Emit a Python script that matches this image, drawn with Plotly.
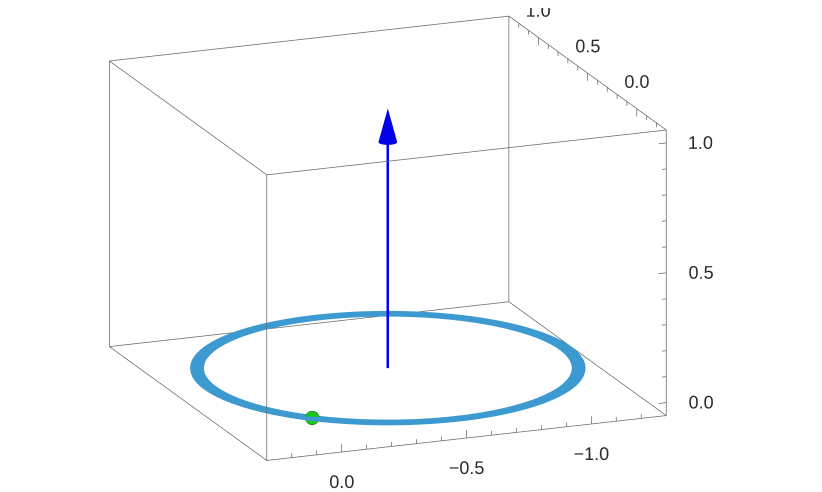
import numpy as np
import plotly.graph_objects as go

# ---------------- data ----------------
box_x = [-1.3, 0.3]
box_y = [-0.3, 1.3]
box_z = [-0.05, 1.05]

x_major = [0.0, -0.5, -1.0]
x_labels = ["0.0", "\u22120.5", "\u22121.0"]
x_minor = [0.2, 0.1, -0.1, -0.2, -0.3, -0.4, -0.6, -0.7, -0.8, -0.9, -1.1, -1.2]
y_major = [0.0, 0.5, 1.0]
y_labels = ["0.0", "0.5", "1.0"]
y_minor = [-0.2, -0.1, 0.1, 0.2, 0.3, 0.4, 0.6, 0.7, 0.8, 0.9, 1.1, 1.2]
z_major = [0.0, 0.5, 1.0]
z_labels = ["0.0", "0.5", "1.0"]
z_minor = [0.1, 0.2, 0.3, 0.4, 0.6, 0.7, 0.8, 0.9]

ring_center = [-0.5, 0.5, 0.0]
ring_radii = [0.69, 0.697, 0.704, 0.711, 0.718, 0.725, 0.732]
arrow_start = [-0.5, 0.5, 0.0]
arrow_end = [-0.5, 0.5, 1.0]
green_point = [0.0, 0.0, 0.0]

# ---------------- styling ----------------
EDGE = "rgb(105,105,105)"
RING = "#3D9AD1"
ARROW = "#0000FF"
FONT = dict(family="Liberation Sans, Arial, sans-serif", size=18, color="#2b2b2b")
PAD = 0.3
TMAJ = 0.03
TMIN = 0.017
ZOOM = 2.4
Z_RATIO = 0.78

fig = go.Figure()

def seg_trace(xs, ys, zs, color, width):
    return go.Scatter3d(x=xs, y=ys, z=zs, mode="lines",
                        line=dict(color=color, width=width),
                        hoverinfo="skip", showlegend=False)

# box edges
ex, ey, ez = [], [], []
X0, X1 = box_x
Y0, Y1 = box_y
Z0, Z1 = box_z
for yy in (Y0, Y1):
    for zz in (Z0, Z1):
        ex += [X0, X1, None]; ey += [yy, yy, None]; ez += [zz, zz, None]
for xx in (X0, X1):
    for zz in (Z0, Z1):
        ex += [xx, xx, None]; ey += [Y0, Y1, None]; ez += [zz, zz, None]
for xx in (X0, X1):
    for yy in (Y0, Y1):
        ex += [xx, xx, None]; ey += [yy, yy, None]; ez += [Z0, Z1, None]
fig.add_trace(seg_trace(ex, ey, ez, EDGE, 1.5))

# ticks
tx, ty, tz = [], [], []
for v in x_major + x_minor:
    L = TMAJ if v in x_major else TMIN
    tx += [v, v, None]; ty += [Y0, Y0, None]; tz += [Z0, Z0 + L, None]
for v in y_major + y_minor:
    L = TMAJ if v in y_major else TMIN
    tx += [X0, X0, None]; ty += [v, v, None]; tz += [Z1, Z1 - L, None]
for v in z_major + z_minor:
    L = TMAJ if v in z_major else TMIN
    tx += [X0, X0 + L, None]; ty += [Y0, Y0, None]; tz += [v, v, None]
fig.add_trace(seg_trace(tx, ty, tz, EDGE, 1.5))

# tick labels
fig.add_trace(go.Scatter3d(x=x_major, y=[Y0] * 3, z=[Z0 - 0.02] * 3, mode="text",
                           text=x_labels, textposition="bottom center",
                           textfont=FONT, hoverinfo="skip", showlegend=False))
fig.add_trace(go.Scatter3d(x=[X0] * 3, y=y_major, z=[Z1 + 0.01] * 3, mode="text",
                           text=y_labels, textposition="top center",
                           textfont=FONT, hoverinfo="skip", showlegend=False))
fig.add_trace(go.Scatter3d(x=[X0 - 0.02] * 3, y=[Y0] * 3, z=z_major, mode="text",
                           text=z_labels, textposition="middle right",
                           textfont=FONT, hoverinfo="skip", showlegend=False))

# ring
theta = np.linspace(0, 2 * np.pi, 241)
rx, ry, rz = [], [], []
for r in ring_radii:
    rx += list(ring_center[0] + r * np.cos(theta)) + [None]
    ry += list(ring_center[1] + r * np.sin(theta)) + [None]
    rz += [ring_center[2]] * len(theta) + [None]
fig.add_trace(seg_trace(rx, ry, rz, RING, 5))

# arrow shaft + head
head_len = 0.13
head_rad = 0.035
sx, sy, sz = arrow_start
axx, ayy, azz = arrow_end
fig.add_trace(seg_trace([sx, axx], [sy, ayy], [sz, azz - head_len * 0.9], ARROW, 5))
phi = np.linspace(0, 2 * np.pi, 25)[:-1]
cx = list(axx + head_rad * np.cos(phi)) + [axx, axx]
cy = list(ayy + head_rad * np.sin(phi)) + [ayy, ayy]
cz = [azz - head_len] * len(phi) + [azz, azz - head_len]
n = len(phi)
ii, jj, kk = [], [], []
for k in range(n):
    ii += [k, k]; jj += [(k + 1) % n, (k + 1) % n]; kk += [n, n + 1]
fig.add_trace(go.Mesh3d(x=cx, y=cy, z=cz, i=ii, j=jj, k=kk, color=ARROW,
                        flatshading=True,
                        lighting=dict(ambient=0.9, diffuse=0.2, specular=0.0),
                        hoverinfo="skip", showlegend=False))

# green point
fig.add_trace(go.Scatter3d(x=[green_point[0]], y=[green_point[1]], z=[green_point[2]],
                           mode="markers",
                           marker=dict(size=8, color="#19C819",
                                       line=dict(color="#0a6a0a", width=1)),
                           hoverinfo="skip", showlegend=False))

# camera: direction, distance and offset of the look-at point
view_dir = np.array([-0.3513, -0.8918, 0.285])
view_dir = view_dir / np.linalg.norm(view_dir)
dist = 2.0 * ZOOM
look = np.array([0.111, -0.064, -0.061])
eye = look + dist * view_dir

noax = dict(visible=False, showgrid=False, zeroline=False, showbackground=False,
            showspikes=False)
fig.update_layout(
    width=822, height=492,
    margin=dict(l=0, r=0, t=0, b=0),
    paper_bgcolor="white",
    showlegend=False,
    scene=dict(
        xaxis=dict(range=[box_x[1] + PAD, box_x[0] - PAD], **noax),
        yaxis=dict(range=[box_y[0] - PAD, box_y[1] + PAD], **noax),
        zaxis=dict(range=[box_z[0] - PAD, box_z[1] + PAD], **noax),
        aspectmode="manual",
        aspectratio=dict(x=ZOOM, y=ZOOM, z=Z_RATIO * ZOOM),
        camera=dict(eye=dict(x=eye[0], y=eye[1], z=eye[2]),
                    up=dict(x=0, y=0, z=1),
                    center=dict(x=look[0], y=look[1], z=look[2]),
                    projection=dict(type="orthographic")),
        domain=dict(x=[0, 1], y=[0, 1]),
    ),
)

fig.write_html("out.html")
